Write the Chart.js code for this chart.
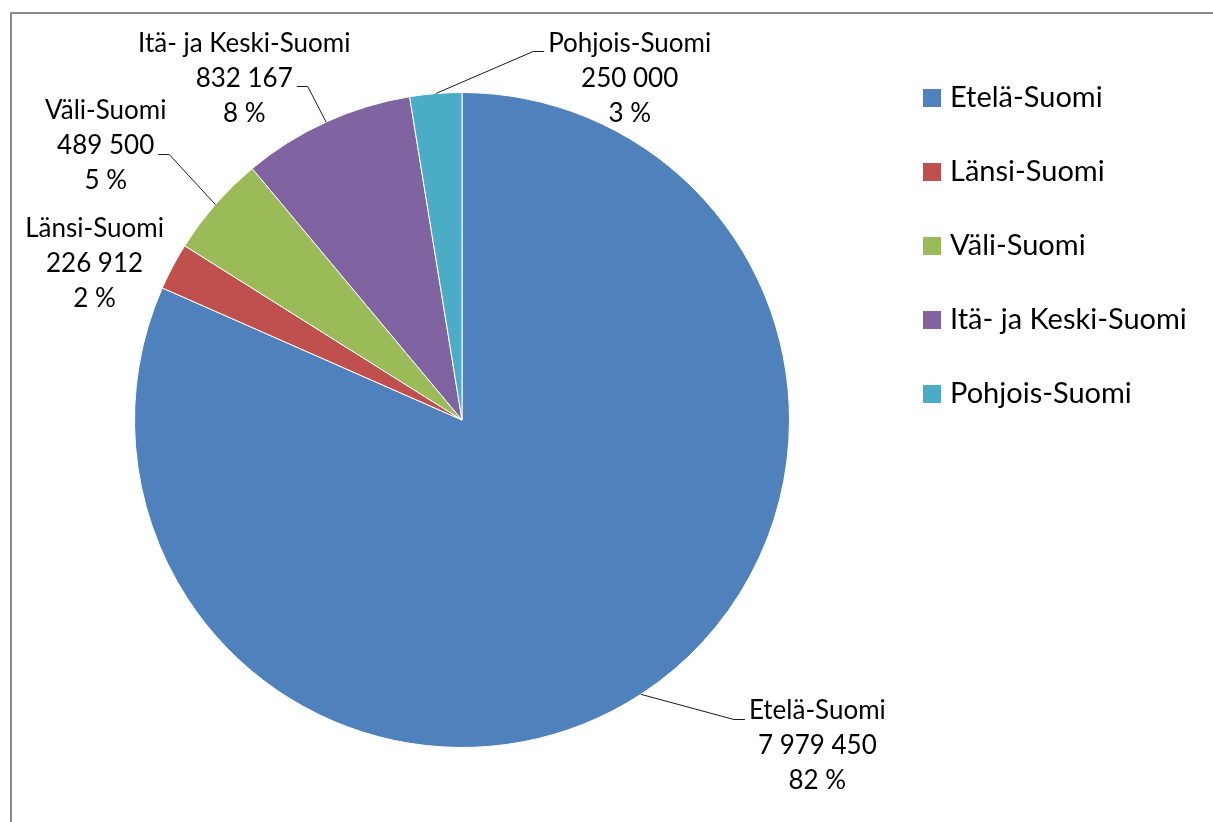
<!DOCTYPE html>
<html>
<head>
<meta charset="utf-8">
<script src="https://cdn.jsdelivr.net/npm/chart.js@4.4.1/dist/chart.umd.min.js"></script>
<style>
  html, body { margin: 0; padding: 0; background: #fff; overflow: hidden; }
  #frame { position: absolute; left: 10px; top: 12px; width: 1400px; height: 1000px; border: 2px solid #8a8a8a; }
  #wrap { position: absolute; left: 0; top: 0; width: 1213px; height: 822px; }
</style>
</head>
<body>
<div id="frame"></div>
<div id="wrap"><canvas id="pie" width="1213" height="822"></canvas></div>
<script>
// data
const regions = ['Etelä-Suomi', 'Länsi-Suomi', 'Väli-Suomi', 'Itä- ja Keski-Suomi', 'Pohjois-Suomi'];
const amounts = [7979450, 226912, 489500, 832167, 250000];
const percentLabels = ['82 %', '2 %', '5 %', '8 %', '3 %'];
const sliceColors = ['#4F81BD', '#C0504D', '#9BBB59', '#8064A2', '#4BACC6'];

// where each data label sits, relative to the pie centre (in radius units)
// leader = which text line the leader line hooks onto, -1 = no leader
const labelSpots = [
    { fx: 1.085, fy: 0.994, leader: 0 },
    { fx: -1.122, fy: -0.479, leader: -1 },
    { fx: -1.088, fy: -0.838, leader: 1 },
    { fx: -0.665, fy: -1.043, leader: 1 },
    { fx: 0.512, fy: -1.043, leader: 0 }
];

const LABEL_FONT = '26px Lato';
const LEGEND_FONT = '29px Lato';
const LINE_H = 35;

function fmt(n) {
    return String(n).replace(/\B(?=(\d{3})+(?!\d))/g, ' ');
}

// data labels with leader lines (Excel style)
const sliceLabels = {
    id: 'sliceLabels',
    afterDatasetsDraw(chart) {
        const ctx = chart.ctx;
        const meta = chart.getDatasetMeta(0);
        const values = chart.data.datasets[0].data;
        ctx.save();
        ctx.font = LABEL_FONT;
        ctx.fillStyle = '#000';
        ctx.strokeStyle = '#1a1a1a';
        ctx.lineWidth = 1;
        ctx.textAlign = 'center';
        ctx.textBaseline = 'middle';
        meta.data.forEach((arc, i) => {
            const r = arc.outerRadius;
            const spot = labelSpots[i];
            const cx = arc.x + spot.fx * r;
            const cy = arc.y + spot.fy * r;
            const lines = [chart.data.labels[i], fmt(values[i]), percentLabels[i]];
            lines.forEach((t, k) => ctx.fillText(t, cx, cy + (k - 1) * LINE_H));

            if (spot.leader >= 0) {
                const mid = (arc.startAngle + arc.endAngle) / 2;
                const ex = arc.x + Math.cos(mid) * r;
                const ey = arc.y + Math.sin(mid) * r;
                const w = ctx.measureText(lines[spot.leader]).width;
                const onRight = ex > cx;
                const ax = onRight ? cx + w / 2 + 4 : cx - w / 2 - 4;
                const ay = Math.round(cy + (spot.leader - 1) * LINE_H + 8) + 0.5;
                const bx = onRight ? ax + 11 : ax - 11;
                ctx.beginPath();
                ctx.moveTo(ax, ay);
                ctx.lineTo(bx, ay);
                ctx.lineTo(ex, ey);
                ctx.stroke();
            }
        });
        ctx.restore();
    }
};

// legend on the right, one item per row
const sideLegend = {
    id: 'sideLegend',
    afterDraw(chart) {
        const ctx = chart.ctx;
        const colors = chart.data.datasets[0].backgroundColor;
        const x = chart.chartArea.right + 9;
        const top = chart.chartArea.top + 6;
        ctx.save();
        ctx.font = LEGEND_FONT;
        ctx.textBaseline = 'middle';
        ctx.textAlign = 'left';
        chart.data.labels.forEach((label, i) => {
            const y = top + i * 74;
            ctx.fillStyle = colors[i];
            ctx.fillRect(x, y - 9, 18, 18);
            ctx.fillStyle = '#000';
            ctx.fillText(label, x + 27, y);
        });
        ctx.restore();
    }
};

function draw() {
    new Chart(document.getElementById('pie'), {
        type: 'pie',
        data: {
            labels: regions,
            datasets: [{
                data: amounts,
                backgroundColor: sliceColors,
                borderColor: '#ffffff',
                borderWidth: 1
            }]
        },
        options: {
            responsive: false,
            animation: false,
            layout: {
                padding: { top: 92, bottom: 74, left: 10, right: 299 }
            },
            plugins: {
                legend: { display: false },
                tooltip: { enabled: false }
            }
        },
        plugins: [sliceLabels, sideLegend]
    });
}

if (document.fonts && document.fonts.load) {
    Promise.all([document.fonts.load(LABEL_FONT), document.fonts.load(LEGEND_FONT)]).then(draw, draw);
} else {
    draw();
}
</script>
</body>
</html>
